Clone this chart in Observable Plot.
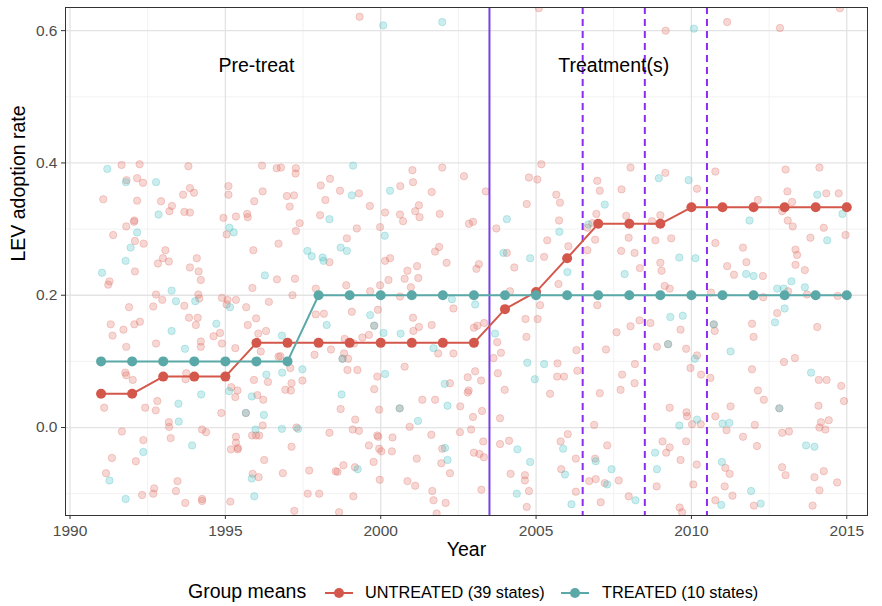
<!DOCTYPE html>
<html><head><meta charset="utf-8">
<script src="https://cdn.jsdelivr.net/npm/d3@7"></script>
<script src="https://cdn.jsdelivr.net/npm/@observablehq/plot@0.6"></script>
<style>
html,body{margin:0;padding:0;background:#fff;}
body{position:relative;width:882px;height:606px;overflow:hidden;font-family:"Liberation Sans",Arial,Helvetica,sans-serif;}
#legend{position:absolute;left:0;top:0;width:882px;height:606px;pointer-events:none;}
.lg{position:absolute;white-space:nowrap;line-height:1;color:#000;}
</style></head><body>
<div id="chart"></div>
<div id="legend"></div>
<script>
// ---------- data ----------
const years = [1991,1992,1993,1994,1995,1996,1997,1998,1999,2000,2001,2002,2003,2004,2005,2006,2007,2008,2009,2010,2011,2012,2013,2014,2015];
const untreatedMean = [0.051,0.051,0.077,0.077,0.077,0.128,0.128,0.128,0.128,0.128,0.128,0.128,0.128,0.179,0.205,0.256,0.308,0.308,0.308,0.333,0.333,0.333,0.333,0.333,0.333];
const treatedMean = [0.1,0.1,0.1,0.1,0.1,0.1,0.1,0.2,0.2,0.2,0.2,0.2,0.2,0.2,0.2,0.2,0.2,0.2,0.2,0.2,0.2,0.2,0.2,0.2,0.2];
const seriesNames = ["UNTREATED (39 states)", "TREATED (10 states)"];
const legendTitle = "Group means";

const treatmentStart = [2003.5];
const treatmentDates = [2006.5, 2008.5, 2010.5];
const annotationLabels = ["Pre-treat", "Treatment(s)"];
const annotationYears = [1996.0, 2007.5];
const annotationRates = [0.547, 0.547];

const xTicks = [1990, 1995, 2000, 2005, 2010, 2015];
const xMinor = [1992.5, 1997.5, 2002.5, 2007.5, 2012.5];
const yTicks = [0.0, 0.2, 0.4, 0.6];
const yMinor = [-0.1, 0.1, 0.3, 0.5];
const yTickLabels = ["0.0", "0.2", "0.4", "0.6"];
const xDomain = [1989.855, 2015.667];
const yDomain = [-0.133, 0.635];

// jittered state-year observations [year, rate]
const untreatedJitter = [
[1991.66,0.397],[1992.24,0.398],[1991.82,0.374],[1992.16,0.377],[1992.35,0.370],[1991.07,0.345],[1992.16,0.343],[1993.81,0.395],[1992.93,0.342],[1993.28,0.335],[1993.2,0.327],[1993.64,0.352],[1993.86,0.362],[1993.99,0.355],[1993.68,0.326],[1993.86,0.325],[1992.07,0.313],[1992.06,0.311],[1991.81,0.304],[1991.39,0.291],[1992.09,0.282],[1992.37,0.278],[1992.09,0.236],[1991.27,0.221],[1991.23,0.216],[1993.07,0.268],[1992.99,0.256],[1992.83,0.248],[1993.18,0.251],[1994.08,0.256],[1993.86,0.242],[1994.14,0.236],[1994.21,0.223],[1995.10,0.365],[1995.10,0.352],[1996.18,0.396],[1996.65,0.392],[1996.79,0.393],[1997.27,0.392],[1997.26,0.384],[1996.2,0.357],[1995.93,0.342],[1996.98,0.350],[1997.21,0.351],[1997.07,0.334],[1998.07,0.366],[1998.37,0.376],[1998.22,0.344],[1998.05,0.321],[1994.94,0.317],[1995.34,0.319],[1995.70,0.323],[1995.72,0.318],[1995.04,0.292],[1997.39,0.309],[1997.27,0.297],[1996.71,0.278],[1995.90,0.268],[1998.35,0.250],[1996.66,0.224],[1997.24,0.225],[1995.87,0.211],[1997.91,0.210],[1997.16,0.200],[1992.77,0.201],[1992.97,0.193],[1992.68,0.183],[1994.13,0.201],[1994.16,0.195],[1994.89,0.196],[1995.07,0.193],[1995.34,0.193],[1995.04,0.186],[1993.68,0.184],[1991.90,0.182],[1995.67,0.182],[1996.4,0.190],[1993.83,0.166],[1994.11,0.166],[1994.05,0.155],[1995.99,0.165],[1995.72,0.155],[1991.31,0.156],[1991.72,0.148],[1992.07,0.156],[1992.25,0.160],[1997.91,0.171],[1998.17,0.172],
[1991.37,0.139],[1991.81,0.122],[1992.77,0.127],[1994.21,0.130],[1994.21,0.122],[1994.62,0.138],[1994.83,0.143],[1994.89,0.127],[1995.32,0.120],[1996.06,0.142],[1996.31,0.146],[1996.14,0.115],[1996.77,0.108],[1996.71,0.107],[1997.87,0.110],[1998.4,0.118],[1991.78,0.083],[1991.81,0.079],[1992.02,0.072],[1993.72,0.073],[1993.74,0.082],[1995.92,0.072],[1996.37,0.069],[1997.09,0.090],[1997.13,0.067],[1996.93,0.057],[1997.11,0.056],[1997.48,0.071],[1995.19,0.061],[1995.39,0.056],[1995.32,0.046],[1996.03,0.049],[1996.22,0.042],[1995.66,0.022],[1991.1,0.030],[1992.42,0.030],[1992.81,0.040],[1992.76,0.026],[1994.87,0.022],[1993.18,0.008],[1993.19,0.001],[1993.24,-0.016],[1991.67,-0.006],[1994.25,-0.003],[1994.38,-0.007],[1995.34,-0.014],[1995.34,-0.023],[1995.40,-0.031],[1995.18,-0.033],[1995.40,-0.033],[1995.86,-0.012],[1995.99,-0.012],[1996.09,-0.012],[1996.20,0.003],[1997.29,0.0],[1998.35,-0.008],[1992.36,-0.019],[1997.13,-0.029],[1991.35,-0.046],[1992.12,-0.051],[1991.16,-0.069],[1996.25,-0.049],[1996.85,-0.069],[1997.70,-0.065],[1995.88,-0.070],[1996.07,-0.075],[1993.46,-0.081],[1993.41,-0.096],[1992.71,-0.092],[1992.68,-0.100],[1992.32,-0.102],[1993.71,-0.114],[1994.25,-0.108],[1994.25,-0.111],[1995.16,-0.112],[1997.65,-0.100],[1998.02,-0.100],[1997.22,-0.126],[1998.55,-0.066],
[1998.69,0.358],[1999.30,0.354],[1999.65,0.335],[2000.63,0.365],[2001.02,0.389],[2001.04,0.371],[2001.98,0.393],[2001.64,0.356],[2000.14,0.325],[2000.62,0.322],[2000.72,0.312],[2001.11,0.327],[2001.23,0.336],[2001.25,0.318],[2001.90,0.323],[2002.68,0.380],[2003.38,0.357],[2002.84,0.308],[2002.97,0.311],[1999.23,0.301],[1999.98,0.303],[1998.91,0.286],[2000.14,0.252],[2000.30,0.256],[2001.75,0.266],[2001.88,0.273],[2002.12,0.249],[2000.86,0.237],[2000.77,0.225],[2001.21,0.226],[2001.17,0.244],[2000.25,0.223],[1998.89,0.215],[2000.97,0.212],[2000.62,0.198],[2001.04,0.166],[2001.23,0.152],[2001.05,0.146],[1999.66,0.206],[1999.98,0.215],[2002.34,0.180],[1999.07,0.175],[1999.91,0.178],[1999.79,0.154],[2001.64,0.155],[2003.08,0.240],[2003.16,0.247],[2003.0,0.151],[2003.11,0.154],[2003.33,0.158],[2003.72,0.301],[2004.06,0.264],[2004.30,0.242],[2004.16,0.206],[2005.13,0.185],[2004.66,0.164],[2005.05,0.164],[2004.77,0.378],[2005.04,0.375],[2005.17,0.398],[2004.70,0.338],[2005.65,0.352],[2005.77,0.340],[2005.74,0.313],[2005.36,0.283],[2005.26,0.258],[2006.04,0.274],[2005.72,0.217],[2006.65,0.302],[2006.97,0.373],[2007.05,0.358],[2006.94,0.323],[2006.81,0.309],[2006.9,0.284],[2006.65,0.268],[2006.97,0.185],
[1998.84,0.134],[1999.14,0.127],[1999.41,0.136],[1999.62,0.140],[2001.85,0.112],[2002.34,0.112],[1998.82,0.112],[1998.77,0.104],[1998.95,0.104],[1998.93,0.087],[1999.25,0.087],[1999.89,0.077],[1999.79,0.058],[1999.95,0.027],[2000.77,0.092],[1998.71,0.028],[2000.61,0.029],[2001.34,0.042],[2001.75,0.042],[2002.23,0.067],[2002.80,0.076],[2003.04,0.085],[2003.23,0.071],[2002.80,0.053],[2002.83,0.056],[2002.56,0.032],[2002.97,0.016],[2003.26,0.025],[1999.18,0.012],[2000.93,0.001],[1999.10,-0.003],[1999.3,-0.005],[1999.89,-0.012],[1999.92,-0.014],[1999.62,-0.027],[1999.95,-0.032],[2000.02,-0.036],[2000.38,-0.015],[2000.36,-0.036],[2001.63,-0.011],[2002.55,-0.007],[2002.91,-0.003],[2001.98,-0.032],[2001.95,-0.054],[2003.3,-0.021],[2003.0,-0.038],[2003.18,-0.040],[2003.32,-0.045],[2001.16,-0.047],[1999.77,-0.052],[1998.80,-0.057],[1998.61,-0.067],[1999.17,-0.060],[1999.97,-0.079],[2000.86,-0.081],[2001.11,-0.088],[2002.23,-0.069],[2003.24,-0.094],[1999.12,-0.104],[2001.66,-0.096],[2001.70,-0.110],[2002.09,-0.114],[2001.80,-0.130],[1998.66,-0.128],[2003.63,0.105],[2003.87,0.113],[2003.75,0.129],[2003.77,0.082],[2003.99,0.057],[2003.84,0.014],[2004.69,0.137],[2005.69,0.097],[2005.68,0.077],[2005.90,0.077],[2005.45,0.051],[2006.33,0.086],[2006.30,0.117],[2007.05,0.052],[2003.84,-0.025],[2004.13,-0.020],[2005.79,-0.021],[2006.02,-0.010],[2006.28,-0.047],[2005.81,-0.063],[2004.18,-0.070],[2004.64,-0.072],[2004.64,-0.080],[2004.77,-0.096],[2006.28,-0.097],[2004.70,-0.120],[2006.87,0.004],[2006.90,-0.047],[2006.92,-0.078],[2006.71,-0.081],[2007.08,-0.113],[2007.21,-0.084],
[2008.04,0.393],[2007.75,0.360],[2009.16,0.385],[2010.18,0.361],[2010.77,0.387],[2007.90,0.320],[2009.0,0.321],[2008.73,0.312],[2007.98,0.287],[2008.84,0.283],[2009.35,0.286],[2007.74,0.267],[2008.17,0.264],[2010.77,0.279],[2009.0,0.249],[2009.04,0.237],[2008.34,0.241],[2009.14,0.214],[2009.30,0.210],[2011.15,0.244],[2011.66,0.272],[2011.77,0.250],[2011.37,0.231],[2012.30,0.229],[2010.63,0.204],[2013.03,0.390],[2013.09,0.357],[2013.24,0.341],[2012.92,0.327],[2013.10,0.313],[2013.26,0.304],[2012.14,0.344],[2014.12,0.393],[2014.34,0.354],[2014.74,0.354],[2014.26,0.302],[2013.83,0.287],[2014.96,0.291],[2013.35,0.269],[2013.40,0.261],[2013.35,0.246],[2013.65,0.238],[2013.11,0.206],[2013.72,0.201],[2014.71,0.199],[2012.31,0.197],[2008.33,0.162],[2008.04,0.153],[2008.68,0.158],[2009.65,0.148],[2010.72,0.156],[2010.75,0.146],[2011.95,0.157],[2012.76,0.173],[2014.05,0.152],
[2007.25,0.118],[2007.59,0.144],[2008.89,0.122],[2009.25,0.126],[2009.83,0.119],[2010.18,0.109],[2012.0,0.137],[2008.18,0.096],[2007.77,0.080],[2008.17,0.067],[2007.72,0.057],[2009.97,0.090],[2010.31,0.080],[2010.61,0.075],[2011.95,0.088],[2012.98,0.099],[2013.33,0.105],[2014.10,0.072],[2014.35,0.072],[2014.82,0.063],[2012.14,0.056],[2012.33,0.042],[2011.26,0.032],[2009.30,0.030],[2009.84,0.023],[2009.86,0.017],[2010.02,0.005],[2010.30,0.005],[2010.77,0.017],[2011.13,-0.004],[2012.83,0.029],[2014.09,0.033],[2014.91,0.040],[2014.17,0.008],[2014.42,0.011],[2014.12,0.000],[2014.31,-0.003],[2012.04,0.004],[2012.92,-0.008],[2013.14,-0.006],[2011.66,-0.014],[2012.11,-0.028],[2007.29,-0.027],[2007.66,-0.080],[2007.98,-0.104],[2008.88,-0.089],[2009.07,-0.021],[2009.30,-0.030],[2009.19,-0.038],[2009.83,-0.021],[2009.65,-0.049],[2010.17,-0.056],[2010.06,-0.086],[2011.09,-0.061],[2011.23,-0.070],[2011.07,-0.089],[2011.32,-0.103],[2012.01,-0.118],[2012.92,-0.060],[2013.03,-0.072],[2013.96,-0.075],[2014.26,-0.066],[2014.69,-0.083],[2014.12,-0.095],[2013.90,-0.118],[2010.77,-0.110],[2009.62,-0.121],[2009.70,-0.128],
[1999.32,0.621],[2005.09,0.634],[2009.17,0.600],[2011.15,0.613],[2012.85,0.604],[2014.78,0.634]
];
const treatedJitter = [
[1991.20,0.391],[1991.80,0.371],[1992.77,0.371],[1992.85,0.322],[1992.16,0.295],[1991.95,0.272],[1991.79,0.252],[1991.03,0.234],[1998.35,0.315],[1995.13,0.302],[1995.27,0.295],[1997.64,0.267],[1997.78,0.259],[1998.13,0.257],[1998.16,0.252],[1996.27,0.230],[1993.27,0.207],[1993.41,0.191],[1994.03,0.191],[1995.15,0.182],[1994.71,0.157],[1993.27,0.146],[1998.26,0.155],
[1993.70,0.119],[1996.82,0.139],[1996.32,0.080],[1996.83,0.083],[1997.48,0.088],[1994.22,0.050],[1995.12,0.055],[1995.85,0.047],[1996.24,0.019],[1995.66,0.022],[1993.49,0.036],[1993.5,0.009],[1995.97,-0.003],[1996.82,-0.002],[1997.34,-0.002],[1992.36,-0.037],[1993.93,-0.027],[1991.27,-0.080],[1995.85,-0.077],[1991.79,-0.108],[1995.93,-0.104],
[1999.11,0.396],[1999.07,0.351],[2000.30,0.358],[2000.13,0.290],[1998.71,0.272],[1998.91,0.267],[2002.29,0.194],[1999.66,0.170],[1999.79,0.154],[2000.09,0.143],[2000.64,0.142],[2003.04,0.186],[2003.68,0.142],[2004.06,0.315],[2003.95,0.264],[2004.81,0.256],[2005.75,0.296],[2006.01,0.235],[2006.68,0.307],[2007.21,0.337],
[2001.70,0.120],[2000.14,0.081],[1998.74,0.050],[1998.77,0.104],[2000.61,0.029],[2002.06,0.066],[2002.15,0.033],[2001.20,0.010],[2002.07,-0.031],[2002.15,-0.049],[1999.26,-0.063],[2004.72,0.098],[2005.26,0.096],[2004.96,0.073],[2004.40,-0.033],[2004.81,-0.052],[2005.87,-0.032],[2005.93,-0.071],[2004.38,-0.100],[2006.14,-0.116],[2006.92,-0.051],
[2008.95,0.377],[2009.91,0.374],[2009.61,0.257],[2010.13,0.256],[2007.85,0.232],[2011.76,0.232],[2012.0,0.229],[2011.87,0.313],[2014.05,0.352],[2014.86,0.323],[2014.37,0.283],[2013.22,0.221],[2012.76,0.210],[2012.97,0.210],[2013.65,0.212],[2009.32,0.167],[2009.72,0.169],[2010.72,0.156],[2012.69,0.159],[2013.0,0.180],
[2009.25,0.126],[2010.11,0.104],[2011.26,0.115],[2013.85,0.083],[2010.18,0.012],[2009.61,0.003],[2011.0,0.006],[2011.22,0.007],[2012.83,0.029],[2013.69,-0.027],[2013.96,-0.029],[2007.43,-0.063],[2007.29,-0.086],[2008.83,-0.038],[2008.89,-0.063],[2010.98,-0.052],[2011.92,-0.096],[2012.23,-0.115],[2008.2,-0.110],[2010.96,-0.117],
[2000.08,0.608],[2001.98,0.613],[2010.08,0.603]
];

// ---------- styles ----------
const RED = "#D4574B", TEAL = "#5AA9A8";
const RED_J = "#E07066", TEAL_J = "#45BFC2";
const FONT = "Liberation Sans, Arial, Helvetica, sans-serif";

const meanRows = years.flatMap((yr, i) => [
  {year: yr, rate: untreatedMean[i], group: seriesNames[0]},
  {year: yr, rate: treatedMean[i], group: seriesNames[1]}
]);
const colorOf = {[seriesNames[0]]: RED, [seriesNames[1]]: TEAL};
const annotations = annotationLabels.map((t, i) => ({text: t, year: annotationYears[i], rate: annotationRates[i]}));

const chart = Plot.plot({
  width: 882, height: 575,
  marginLeft: 65, marginRight: 15, marginTop: 7, marginBottom: 60,
  style: {fontFamily: FONT, background: "#fff", overflow: "visible"},
  x: {domain: xDomain, label: null},
  y: {domain: yDomain, label: null},
  marks: [
    Plot.gridX({ticks: xMinor, stroke: "#EFEFEF", strokeOpacity: 1, strokeWidth: 0.8}),
    Plot.gridY({ticks: yMinor, stroke: "#EFEFEF", strokeOpacity: 1, strokeWidth: 0.8}),
    Plot.gridX({ticks: xTicks, stroke: "#E3E3E3", strokeOpacity: 1, strokeWidth: 1.3}),
    Plot.gridY({ticks: yTicks, stroke: "#E3E3E3", strokeOpacity: 1, strokeWidth: 1.3}),
    Plot.dot(untreatedJitter, {x: d => d[0], y: d => d[1], r: 3.7, fill: RED_J, fillOpacity: 0.28, stroke: RED_J, strokeOpacity: 0.3, strokeWidth: 1, clip: true}),
    Plot.dot(treatedJitter, {x: d => d[0], y: d => d[1], r: 3.7, fill: TEAL_J, fillOpacity: 0.28, stroke: TEAL_J, strokeOpacity: 0.3, strokeWidth: 1, clip: true}),
    Plot.ruleX(treatmentStart, {stroke: "#7B3FE4", strokeWidth: 2}),
    Plot.ruleX(treatmentDates, {stroke: "#8B2CF2", strokeWidth: 2, strokeDasharray: "7,5"}),
    Plot.line(meanRows, {x: "year", y: "rate", z: "group", stroke: d => colorOf[d.group], strokeWidth: 2}),
    Plot.dot(meanRows, {x: "year", y: "rate", fill: d => colorOf[d.group], r: 5, stroke: "none"}),
    Plot.text(annotations, {x: "year", y: "rate", text: "text", fontSize: 19.5, fill: "#000", fontFamily: FONT}),
    Plot.frame({stroke: "#333", strokeWidth: 1}),
    Plot.axisX({ticks: xTicks, tickFormat: d => String(d), tickSize: 4, tickPadding: 5, fontSize: 15.5, fill: "#4d4d4d", stroke: "#333", label: null}),
    Plot.axisY({ticks: yTicks, tickFormat: d => yTickLabels[yTicks.indexOf(d)] ?? d3.format(".1f")(d), tickSize: 4, tickPadding: 4, fontSize: 15.5, fill: "#4d4d4d", stroke: "#333", label: null}),
    Plot.text(["Year"], {frameAnchor: "bottom", dy: 40, fontSize: 19.5, fill: "#000", fontFamily: FONT}),
    Plot.text(["LEV adoption rate"], {frameAnchor: "left", dx: -47, rotate: -90, fontSize: 19.5, fill: "#000", fontFamily: FONT})
  ]
});
document.getElementById("chart").appendChild(chart);

// ---------- legend (below the SVG) ----------
const lg = document.getElementById("legend");
function addText(txt, left, size) {
  const s = document.createElement("div");
  s.className = "lg"; s.textContent = txt;
  s.style.left = left + "px"; s.style.fontSize = size + "px";
  s.style.top = (593 - size * 0.55) + "px";
  lg.appendChild(s);
}
function addKey(color, left) {
  const ns = "http://www.w3.org/2000/svg";
  const svg = document.createElementNS(ns, "svg");
  svg.setAttribute("width", 28); svg.setAttribute("height", 14);
  svg.style.position = "absolute"; svg.style.left = left + "px"; svg.style.top = "586px";
  const l = document.createElementNS(ns, "line");
  l.setAttribute("x1", 0); l.setAttribute("x2", 28); l.setAttribute("y1", 7); l.setAttribute("y2", 7);
  l.setAttribute("stroke", color); l.setAttribute("stroke-width", 2);
  const c = document.createElementNS(ns, "circle");
  c.setAttribute("cx", 14); c.setAttribute("cy", 7); c.setAttribute("r", 5); c.setAttribute("fill", color);
  svg.appendChild(l); svg.appendChild(c); lg.appendChild(svg);
}
addText(legendTitle, 188, 19.5);
addKey(RED, 325);
addText(seriesNames[0], 365, 16.3);
addKey(TEAL, 561);
addText(seriesNames[1], 602, 16.3);
</script>
</body></html>
